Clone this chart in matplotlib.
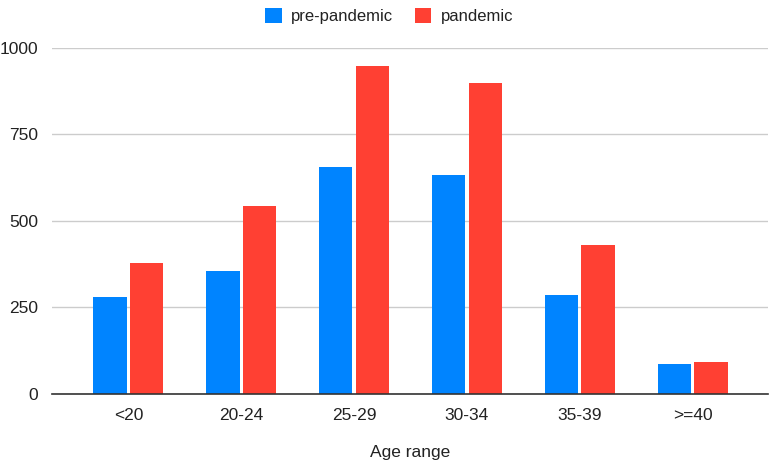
import numpy as np
import matplotlib.pyplot as plt

categories = ['<20', '20-24', '25-29', '30-34', '35-39', '>=40']
pre_pandemic = [281, 355, 656, 633, 286, 87]
pandemic = [379, 543, 946, 899, 430, 93]

plt.rcParams['font.family'] = ['Liberation Sans', 'DejaVu Sans']

fig = plt.figure(figsize=(7.78, 4.65), dpi=100)
ax = fig.add_axes([52 / 778, 1 - 394 / 465, (768 - 52) / 778, (394 - 47.7) / 465])

x = np.arange(len(categories))
w = 0.296
ax.bar(x - 0.163, pre_pandemic, w, color='#0084ff', label='pre-pandemic', zorder=3)
ax.bar(x + 0.163, pandemic, w, color='#ff4033', label='pandemic', zorder=3)

ax.set_xlim(-0.677, 5.668)
ax.set_ylim(0, 1000)
ax.set_yticks([0, 250, 500, 750, 1000])
ax.set_xticks(x)
ax.set_xticklabels(categories)
ax.yaxis.grid(True, color='#cccccc', linewidth=1, zorder=0)
ax.tick_params(axis='both', length=0, labelsize=12.5, colors='#222222')
ax.tick_params(axis='x', pad=10)
ax.tick_params(axis='y', pad=10)
for s in ['top', 'right', 'left']:
    ax.spines[s].set_visible(False)
ax.spines['bottom'].set_color('#333333')
ax.spines['bottom'].set_linewidth(1.2)
ax.spines['bottom'].set_zorder(4)

ax.set_xlabel('Age range', fontsize=12.5, color='#222222', labelpad=16)

fig.legend(loc='upper center', bbox_to_anchor=(0.5, 1.015), ncol=2, frameon=False,
           fontsize=12, handlelength=1.0, handleheight=1.0, columnspacing=1.3,
           handletextpad=0.55, labelcolor='#222222')

fig.savefig('out.png', dpi=100)
